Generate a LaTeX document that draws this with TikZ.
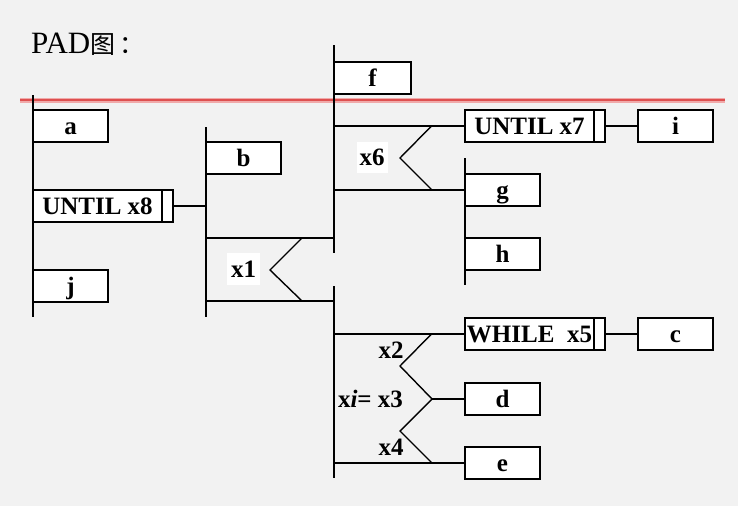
\documentclass[tikz,border=0pt]{standalone}
\usepackage{fontspec}
\setmainfont{Liberation Serif}
\newfontfamily\cjkf{Noto Sans CJK SC}
\definecolor{bgc}{RGB}{242,242,242}
\definecolor{redl}{RGB}{222,80,80}
\definecolor{redsoft}{RGB}{240,170,170}
\begin{document}
\begin{tikzpicture}[x=1pt,y=-1pt,
  pbox/.style={draw, fill=white, line width=2pt, inner sep=0pt, minimum height=32pt,
    font=\bfseries\fontsize{25}{25}\selectfont, text height=17pt, text depth=0pt},
  wbox/.style={pbox, minimum width=75pt},
  lbox/.style={pbox, minimum width=129pt},
  lbar/.style={pbox, minimum width=11pt},
  ln/.style={line width=2pt},
  chev/.style={line width=1.4pt, line join=miter},
  lab/.style={font=\bfseries\fontsize{25}{25}\selectfont, inner sep=2pt}]
\fill[bgc] (0,0) rectangle (738,506);
\useasboundingbox (0,0) rectangle (738,506);
% title
\node[anchor=base west, inner sep=0pt] (title) at (31,53)
  {\fontsize{31}{31}\selectfont PAD{\cjkf\fontsize{25}{25}\selectfont 图\,：}};
% red rule
\coordinate (rl) at (20,100);
\coordinate (rr) at (725,100);
\draw[redsoft, line width=5pt] (rl) -- (rr);
\draw[redl, line width=2pt] (rl) -- (rr);
% vertical sequence lines
\coordinate (l1t) at (33,95);  \coordinate (l1b) at (33,317);
\coordinate (l2t) at (206,127); \coordinate (l2b) at (206,317);
\coordinate (l3t) at (334,45);  \coordinate (l3m) at (334,253);
\coordinate (l4t) at (334,286); \coordinate (l4b) at (334,478);
\coordinate (l5t) at (465,158); \coordinate (l5b) at (465,285);
\draw[ln] (l1t) -- (l1b);
\draw[ln] (l2t) -- (l2b);
\draw[ln] (l3t) -- (l3m);
\draw[ln] (l4t) -- (l4b);
\draw[ln] (l5t) -- (l5b);
% boxes
\node[wbox] (a) at (70.5,126) {a};
\node[lbox] (u8) at (97.5,205.5) {UNTIL x8};
\node[lbar] (u8b) at (167.5,205.5) {};
\node[wbox] (j) at (70.5,286) {j};
\node[wbox] (b) at (243.5,158) {b};
\node[wbox, minimum width=77pt] (f) at (372.5,78) {f};
\node[lbox] (u7) at (529.5,125.5) {UNTIL x7};
\node[lbar] (u7b) at (599.5,125.5) {};
\node[wbox] (i) at (675.5,125.5) {i};
\node[wbox] (g) at (502.5,190) {g};
\node[wbox] (h) at (502.5,254) {h};
\node[lbox] (w5) at (529.5,333.5) {WHILE\ \ x5};
\node[lbar] (w5b) at (599.5,333.5) {};
\node[wbox] (c) at (675.5,333.5) {c};
\node[wbox] (d) at (502.5,399) {d};
\node[wbox] (e) at (502.5,463) {e};
% connectors
\coordinate (u8j) at (206,205.5);
\draw[ln] (u8b.east) -- (u8j);
\draw[ln] (u7b.east) -- (i.west);
\draw[ln] (w5b.east) -- (c.west);
% selection x1
\coordinate (s1a) at (206,238); \coordinate (s1b) at (334,238);
\coordinate (s1c) at (206,301); \coordinate (s1d) at (334,301);
\draw[ln] (s1a) -- (s1b);
\draw[ln] (s1c) -- (s1d);
\coordinate (k1a) at (302,238); \coordinate (k1p) at (270,270); \coordinate (k1b) at (302,301);
\draw[chev] (k1a) -- (k1p) -- (k1b);
\node[lab, fill=white, minimum width=33pt, minimum height=32pt] (x1) at (243.5,269) {x1};
% selection x6
\coordinate (s6a) at (334,125.5); \coordinate (s6c) at (334,190); \coordinate (s6d) at (465,190);
\draw[ln] (s6a) -- (u7.west);
\draw[ln] (s6c) -- (s6d);
\coordinate (k6a) at (432,125.5); \coordinate (k6p) at (400,158); \coordinate (k6b) at (432,190);
\draw[chev] (k6a) -- (k6p) -- (k6b);
\node[lab, fill=white, minimum width=31pt, minimum height=31pt] (x6) at (372,157.5) {x6};
% multiple selection
\coordinate (m1) at (334,333.5); \coordinate (m3) at (334,463);
\draw[ln] (m1) -- (w5.west);
\draw[ln] (m3) -- (e.west);
\coordinate (z1) at (432,333.5); \coordinate (z2) at (400,366); \coordinate (z3) at (432,399);
\coordinate (z4) at (400,431); \coordinate (z5) at (432,463);
\draw[chev] (z1) -- (z2) -- (z3) -- (z4) -- (z5);
\draw[ln] (z3) -- (d.west);
\node[lab] (x2) at (391,350) {x2};
\node[lab] (x3) at (370.5,399) {x\textit{i}= x3};
\node[lab] (x4) at (391,447) {x4};
\end{tikzpicture}
\end{document}
